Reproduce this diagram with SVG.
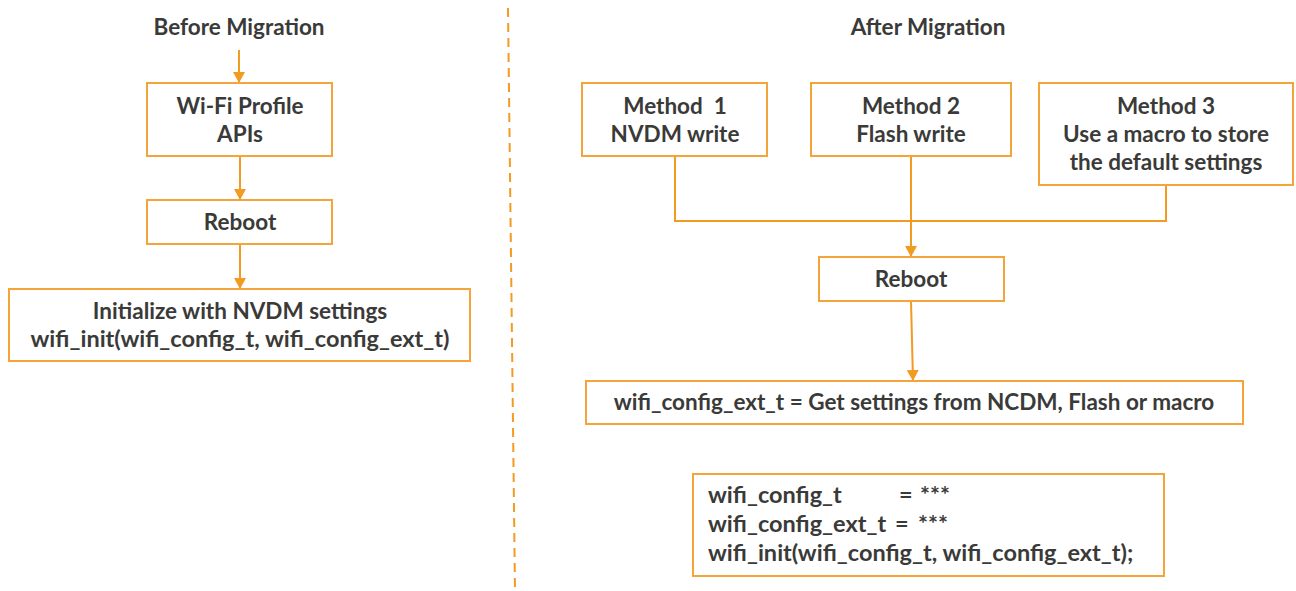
<svg xmlns="http://www.w3.org/2000/svg" width="1296" height="591" viewBox="0 0 1296 591">
<style>
.box{fill:#ffffff;stroke:#F5A43A;stroke-width:2}
.t{font-family:Lato,"Open Sans","Liberation Sans",sans-serif;font-weight:bold;font-size:22.5px;fill:#3A3A38}
.k{font-size:23.5px}
.c{text-anchor:middle}
.ln{fill:none;stroke:#F29A22;stroke-width:2}
</style>
<defs>
<marker id="ah" markerUnits="userSpaceOnUse" markerWidth="14" markerHeight="12" refX="11" refY="6" orient="auto" viewBox="0 0 14 12">
<path d="M0,0 L11,6 L0,12 Z" fill="#F29A22"/>
</marker>
</defs>
<rect width="1296" height="591" fill="#ffffff"/>
<g id="divider">
<line x1="508" y1="8" x2="515" y2="591" stroke="#F29A22" stroke-width="2" stroke-dasharray="9,6"/>
</g>
<g id="titles">
<text class="t c" x="239" y="35">Before Migration</text>
<text class="t c" x="928" y="35">After Migration</text>
</g>
<g id="connectors">
<line class="ln" x1="239" y1="50" x2="239" y2="83" marker-end="url(#ah)"/>
<line class="ln" x1="240" y1="156" x2="240" y2="200" marker-end="url(#ah)"/>
<line class="ln" x1="240" y1="244" x2="240" y2="289" marker-end="url(#ah)"/>
<polyline class="ln" points="675,156 675,221 1166,221 1166,185"/>
<line class="ln" x1="911" y1="156" x2="911" y2="257" marker-end="url(#ah)"/>
<line class="ln" x1="911" y1="301" x2="913" y2="381" marker-end="url(#ah)"/>
</g>
<g id="wifi-profile">
<rect class="box" x="147" y="83" width="185" height="73"/>
<text class="t c" x="240" y="114">Wi-Fi Profile</text>
<text class="t c" x="240" y="142">APIs</text>
</g>
<g id="reboot-before">
<rect class="box" x="147" y="200" width="185" height="44"/>
<text class="t c" x="240" y="230">Reboot</text>
</g>
<g id="init-before">
<rect class="box" x="9" y="289" width="461" height="72"/>
<text class="t c" x="240" y="319">Initialize with NVDM settings</text>
<text class="t c k" x="240" y="347">wifi_init(wifi_config_t, wifi_config_ext_t)</text>
</g>
<g id="method1">
<rect class="box" x="582" y="83" width="185" height="73"/>
<text class="t c" x="675" y="114" xml:space="preserve">Method  1</text>
<text class="t c" x="675" y="142">NVDM write</text>
</g>
<g id="method2">
<rect class="box" x="811" y="83" width="200" height="73"/>
<text class="t c" x="911" y="114">Method 2</text>
<text class="t c" x="911" y="142">Flash write</text>
</g>
<g id="method3">
<rect class="box" x="1039" y="83" width="254" height="102"/>
<text class="t c" x="1166" y="114">Method 3</text>
<text class="t c" x="1166" y="142">Use a macro to store</text>
<text class="t c" x="1166" y="170">the default settings</text>
</g>
<g id="reboot-after">
<rect class="box" x="819" y="257" width="185" height="44"/>
<text class="t c" x="911" y="287">Reboot</text>
</g>
<g id="get-settings">
<rect class="box" x="586" y="381" width="657" height="43"/>
<text class="t c" x="914" y="410">wifi_config_ext_t = Get settings from NCDM, Flash or macro</text>
</g>
<g id="code">
<rect class="box" x="693" y="474" width="471" height="102"/>
<text class="t k" x="708" y="503">wifi_config_t<tspan x="899">=</tspan><tspan x="920">***</tspan></text>
<text class="t k" x="708" y="532">wifi_config_ext_t<tspan x="895">=</tspan><tspan x="918">***</tspan></text>
<text class="t k" x="708" y="561">wifi_init(wifi_config_t, wifi_config_ext_t);</text>
</g>
</svg>
